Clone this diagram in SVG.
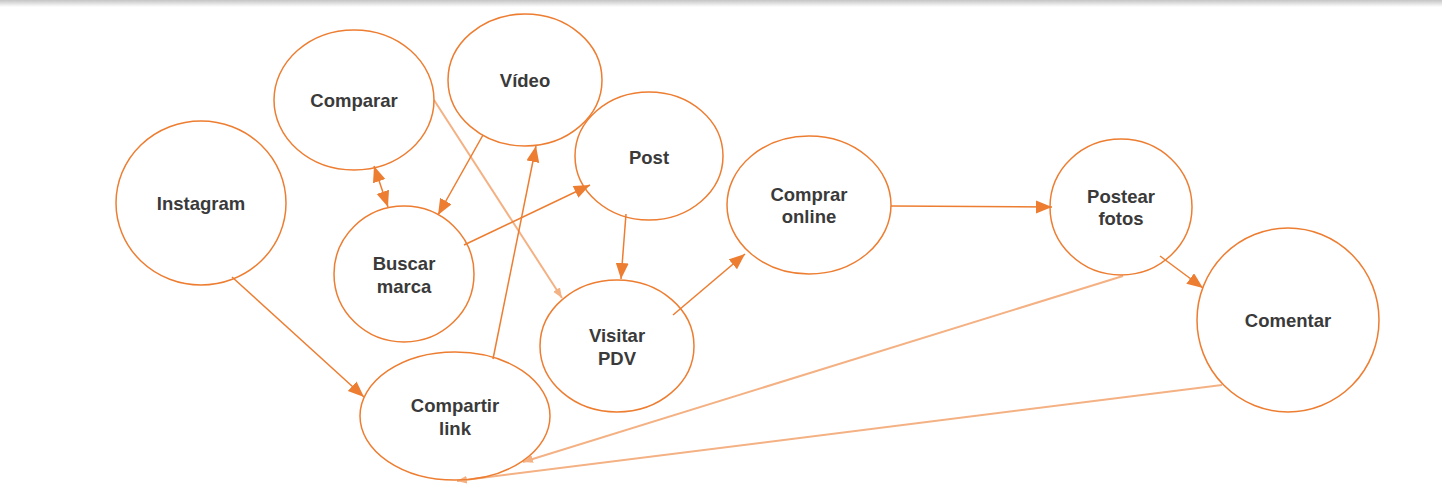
<svg xmlns="http://www.w3.org/2000/svg" width="1442" height="502" viewBox="0 0 1442 502">
<style>
.n{fill:none;stroke:#ED7D31;stroke-width:1.5}
.t{font-family:"Liberation Sans",Arial,sans-serif;font-weight:bold;font-size:18.5px;fill:#3A3A3A;text-anchor:middle;dominant-baseline:central}
.d{stroke:#ED7D31;stroke-width:1.5;fill:none;marker-end:url(#ad)}
.l{stroke:#F4B183;stroke-width:2;fill:none;marker-end:url(#al)}
</style>
<defs>
<linearGradient id="sh" x1="0" y1="0" x2="0" y2="1">
<stop offset="0" stop-color="#c4c4c4"/>
<stop offset="1" stop-color="#fff"/>
</linearGradient>
<marker id="ad" markerUnits="userSpaceOnUse" markerWidth="17" markerHeight="14" refX="16" refY="6.5" orient="auto-start-reverse">
<path d="M0,0 L16,6.5 L0,13 z" fill="#ED7D31"/>
</marker>
<marker id="al" markerUnits="userSpaceOnUse" markerWidth="11" markerHeight="9" refX="10" refY="4" orient="auto">
<path d="M0,0 L10,4 L0,8 z" fill="#F4B183"/>
</marker>
</defs>
<rect x="0" y="0" width="1442" height="502" fill="#fff"/>
<rect x="0" y="0" width="1442" height="7" fill="url(#sh)"/>
<g id="connectors">
<line class="l" x1="434" y1="100" x2="562" y2="298"/>
<line class="l" x1="1123" y1="276" x2="523" y2="462"/>
<line class="l" x1="1222" y1="385" x2="457" y2="481"/>
<line class="d" x1="232" y1="277" x2="364" y2="397"/>
<line class="d" x1="374" y1="166" x2="388" y2="207" style="marker-start:url(#ad)"/>
<line class="d" x1="483" y1="135" x2="438" y2="215"/>
<line class="d" x1="493" y1="359" x2="536" y2="146"/>
<line class="d" x1="464" y1="245" x2="590" y2="185"/>
<line class="d" x1="626" y1="214" x2="621" y2="279"/>
<line class="d" x1="673" y1="315" x2="745" y2="254"/>
<line class="d" x1="891" y1="206" x2="1052" y2="207"/>
<line class="d" x1="1160" y1="256" x2="1203" y2="288"/>
</g>
<g id="instagram"><ellipse class="n" cx="201" cy="203" rx="85" ry="82"/><text class="t" x="201" y="203">Instagram</text></g>
<g id="comparar"><ellipse class="n" cx="354" cy="100" rx="80" ry="70"/><text class="t" x="354" y="100">Comparar</text></g>
<g id="video"><ellipse class="n" cx="525" cy="80" rx="77" ry="66"/><text class="t" x="525" y="80">Vídeo</text></g>
<g id="post"><ellipse class="n" cx="649" cy="156" rx="74" ry="64"/><text class="t" x="649" y="157">Post</text></g>
<g id="buscar-marca"><ellipse class="n" cx="404" cy="274" rx="70" ry="68"/><text class="t" x="404" y="263">Buscar</text><text class="t" x="404" y="286">marca</text></g>
<g id="visitar-pdv"><ellipse class="n" cx="617" cy="346" rx="77" ry="66"/><text class="t" x="617" y="335">Visitar</text><text class="t" x="617" y="358">PDV</text></g>
<g id="compartir-link"><ellipse class="n" cx="455" cy="416" rx="95" ry="64"/><text class="t" x="455" y="405">Compartir</text><text class="t" x="455" y="428">link</text></g>
<g id="comprar-online"><ellipse class="n" cx="809" cy="205" rx="82" ry="69"/><text class="t" x="809" y="194">Comprar</text><text class="t" x="809" y="216">online</text></g>
<g id="postear-fotos"><ellipse class="n" cx="1121" cy="207" rx="71" ry="68"/><text class="t" x="1121" y="196">Postear</text><text class="t" x="1121" y="218">fotos</text></g>
<g id="comentar"><ellipse class="n" cx="1288" cy="320" rx="91" ry="92"/><text class="t" x="1288" y="320">Comentar</text></g>
</svg>
